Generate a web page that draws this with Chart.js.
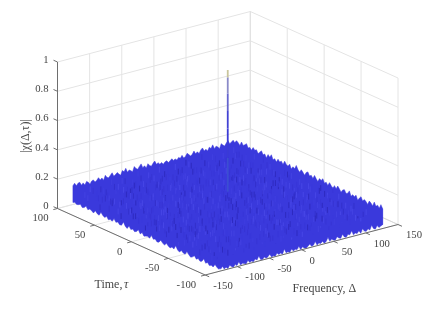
<!DOCTYPE html>
<html lang="en">
<head>
  <meta charset="UTF-8" />
  <title>Ambiguity function</title>
  <script src="https://cdn.jsdelivr.net/npm/chart.js"></script>
  <style>
    body, html { margin: 0; background: #fff; }
    canvas { display: block; filter: blur(0.3px); }
  </style>
</head>
<body>
  <canvas id="chart" width="423" height="313"></canvas>

  <script>
    const zTicks = [0, 0.2, 0.4, 0.6, 0.8, 1];
    const tauTicks = [-100, -50, 0, 50, 100];
    const freqTicks = [-150, -100, -50, 0, 50, 100, 150];

    // surface extent
    const freqEnd = 126;
    const tauEnd = 100;

    // top of the surface along tau = 100 (freq -126 .. 126)
    const backEdge = [0.128,0.142,0.121,0.136,0.139,0.116,0.129,0.112,0.133,0.124,0.107,0.127,0.131,0.113,0.122,0.137,0.118,0.129,0.111,0.141,0.123,0.119,0.133,0.146,0.12,0.128,0.139,0.125,0.114,0.143,0.131,0.152,0.122,0.135,0.127,0.117,0.149,0.132,0.124,0.141,0.155,0.126,0.136,0.118,0.144,0.129,0.121,0.138,0.15,0.125,0.133,0.119,0.128,0.113,0.126,0.131,0.116,0.124,0.135,0.121,0.128,0.117,0.132,0.123,0.14,0.119,0.127,0.145,0.133,0.12,0.129,0.148,0.126,0.137,0.122,0.143,0.154,0.13,0.139,0.124,0.147,0.135,0.157,0.128,0.142,0.133,0.119,0.15,0.137,0.127,0.146,0.158,0.134,0.143,0.152,0.13];
    // top of the surface along freq = 126 (tau 100 .. -100)
    const rightEdge = [0.134,0.151,0.142,0.128,0.157,0.139,0.148,0.161,0.137,0.146,0.132,0.155,0.141,0.15,0.129,0.144,0.158,0.136,0.147,0.125,0.153,0.14,0.162,0.133,0.145,0.127,0.152,0.138,0.149,0.131,0.159,0.142,0.135,0.154,0.126,0.146,0.137,0.165,0.143,0.13,0.151,0.139,0.124,0.148,0.157,0.134,0.144,0.128,0.153,0.136,0.122,0.147,0.14,0.156,0.131,0.143,0.125,0.15,0.135,0.118,0.145,0.129,0.152,0.137,0.121,0.141,0.148,0.127,0.134,0.155,0.123,0.139,0.13,0.146,0.117,0.136,0.151,0.126,0.142,0.133,0.119,0.147,0.138,0.124,0.155,0.131,0.144,0.128,0.158,0.136];
    // lower rim along tau = -100 (freq -126 .. 126)
    const frontEdge = [0.012,0.028,0.007,0.016,0.004,0.022,0.011,0.003,0.019,0.008,0.031,0.005,0.014,0.009,0.002,0.025,0.006,0.013,0.004,0.02,0.01,0.034,0.007,0.003,0.017,0.006,0.012,0.027,0.005,0.009,0.003,0.021,0.008,0.015,0.004,0.036,0.007,0.011,0.003,0.023,0.006,0.014,0.009,0.029,0.004,0.018,0.007,0.002,0.013,0.024,0.006,0.01,0.032,0.005,0.016,0.008,0.021,0.003,0.012,0.038,0.007,0.019,0.01,0.005,0.026,0.014,0.008,0.033,0.011,0.006,0.022,0.016,0.04,0.009,0.018,0.012,0.028,0.007,0.035,0.015,0.01,0.024,0.013,0.042,0.017,0.009,0.03,0.014,0.02,0.026];
    // lower rim along freq = -126 (tau -100 .. 100)
    const leftEdge = [0.02,0.006,0.014,0.027,0.004,0.011,0.002,0.018,0.007,0.031,0.009,0.003,0.016,0.006,0.024,0.01,0.002,0.013,0.029,0.005,0.008,0.019,0.003,0.011,0.035,0.006,0.015,0.002,0.009,0.022,0.004,0.012,0.026,0.007,0.003,0.017,0.01,0.032,0.005,0.013,0.008,0.002,0.021,0.006,0.028,0.011,0.004,0.016,0.007,0.025,0.003,0.012,0.036,0.008,0.005,0.019,0.01,0.03,0.006,0.014,0.004,0.023,0.009,0.017,0.033,0.007,0.012,0.026,0.005,0.015,0.02,0.01,0.029,0.013,0.008,0.024,0.016,0.011,0.021,0.014];

    // heights inside the surface, one list per tau, back to front
    const rowTaus = [85, 70, 55, 40, 25, 10, -5, -20, -35, -50, -65, -80];
    const rowHeights = [
      [0.09,0.13,0.07,0.11,0.05,0.12,0.08,0.14,0.06,0.1,0.13,0.07,0.12,0.04,0.09,0.13,0.08,0.11,0.06,0.14,0.09,0.05,0.12,0.08,0.13,0.07,0.1,0.04,0.12,0.09],
      [0.06,0.11,0.08,0.14,0.05,0.1,0.12,0.06,0.13,0.08,0.04,0.11,0.07,0.14,0.09,0.05,0.12,0.1,0.07,0.13,0.04,0.09,0.12,0.06,0.11,0.14,0.05,0.1,0.08,0.13],
      [0.12,0.05,0.1,0.07,0.13,0.09,0.04,0.11,0.08,0.14,0.06,0.12,0.09,0.05,0.13,0.07,0.11,0.04,0.1,0.08,0.14,0.06,0.12,0.09,0.05,0.11,0.13,0.07,0.1,0.06],
      [0.07,0.13,0.09,0.04,0.12,0.06,0.14,0.08,0.1,0.05,0.13,0.07,0.11,0.09,0.04,0.12,0.14,0.06,0.1,0.05,0.08,0.13,0.07,0.11,0.04,0.09,0.12,0.06,0.14,0.08],
      [0.1,0.06,0.12,0.08,0.05,0.13,0.09,0.04,0.11,0.14,0.07,0.1,0.05,0.12,0.08,0.06,0.14,0.09,0.04,0.11,0.07,0.13,0.05,0.1,0.12,0.08,0.04,0.13,0.07,0.11],
      [0.05,0.12,0.07,0.13,0.1,0.04,0.09,0.14,0.06,0.11,0.08,0.13,0.05,0.1,0.12,0.07,0.04,0.11,0.14,0.06,0.09,0.12,0.08,0.05,0.13,0.1,0.07,0.14,0.04,0.09],
      [0.13,0.08,0.04,0.11,0.06,0.14,0.07,0.1,0.12,0.05,0.09,0.04,0.13,0.08,0.11,0.14,0.06,0.1,0.05,0.12,0.09,0.04,0.13,0.07,0.11,0.06,0.12,0.09,0.05,0.1],
      [0.08,0.11,0.05,0.14,0.09,0.06,0.12,0.04,0.1,0.13,0.07,0.11,0.06,0.14,0.05,0.09,0.12,0.08,0.13,0.04,0.1,0.07,0.14,0.06,0.11,0.05,0.09,0.13,0.08,0.12],
      [0.04,0.1,0.13,0.06,0.11,0.08,0.05,0.12,0.14,0.07,0.09,0.13,0.04,0.1,0.07,0.12,0.05,0.14,0.08,0.11,0.06,0.13,0.09,0.04,0.12,0.07,0.1,0.05,0.11,0.14],
      [0.11,0.07,0.12,0.04,0.09,0.13,0.06,0.1,0.05,0.14,0.08,0.04,0.12,0.09,0.13,0.06,0.11,0.07,0.04,0.1,0.14,0.05,0.08,0.12,0.06,0.13,0.04,0.11,0.09,0.07],
      [0.06,0.09,0.04,0.12,0.07,0.1,0.13,0.05,0.08,0.11,0.04,0.14,0.07,0.05,0.1,0.12,0.06,0.09,0.13,0.05,0.11,0.04,0.1,0.07,0.12,0.05,0.14,0.08,0.06,0.1],
      [0.05,0.03,0.09,0.06,0.02,0.1,0.04,0.07,0.03,0.11,0.05,0.08,0.02,0.06,0.1,0.03,0.07,0.05,0.09,0.02,0.06,0.11,0.04,0.08,0.03,0.1,0.05,0.07,0.04,0.09]
    ];

    // spike at the origin, with its colour going up the line
    const peakZ = [0.17, 0.4, 0.6, 0.72, 0.84, 0.95, 1];
    const peakColors = ['#3c4ed2', '#3a3ad6', '#4343d4', '#6565ce', '#8a8ac8', '#c9c59c'];

    // orthographic view of the box: screen position of freq, tau, z
    function sx(freq, tau) {
      return 57.5 + (100 - tau) / 200 * 147.7 + (freq + 150) / 300 * 192.8;
    }
    function sy(freq, tau, z) {
      return 208.5 + (100 - tau) / 200 * 66.5 - (freq + 150) / 300 * 50.5 - z * 146.5;
    }
    const pt = (freq, tau, z) => ({ x: sx(freq, tau), y: sy(freq, tau, z) });
    const along = (values, i) => -1 + 2 * i / (values.length - 1);

    const lineSet = (data, color, width) => ({
      data, borderColor: color, borderWidth: width, pointRadius: 0, showLine: true, fill: false, tension: 0
    });

    const sets = [];
    const GRID = '#e4e4e4';
    const AXIS = '#6e6e6e';

    // walls and floor
    zTicks.forEach(z => {
      sets.push(lineSet([pt(-150, 100, z), pt(150, 100, z), pt(150, -100, z)], GRID, 1));
    });
    freqTicks.forEach(f => {
      sets.push(lineSet([pt(f, -100, 0), pt(f, 100, 0), pt(f, 100, 1)], f === 150 ? '#d8d8d8' : GRID, 1));
    });
    tauTicks.forEach(t => {
      sets.push(lineSet([pt(-150, t, 0), pt(150, t, 0), pt(150, t, 1)], GRID, 1));
    });

    // outline of the surface
    const outline = [];
    backEdge.forEach((z, i) => outline.push(pt(along(backEdge, i) * freqEnd, tauEnd, z)));
    rightEdge.forEach((z, i) => outline.push(pt(freqEnd, -along(rightEdge, i) * tauEnd, z)));
    frontEdge.slice().reverse().forEach((z, i) => outline.push(pt(-along(frontEdge, i) * freqEnd, -tauEnd, z)));
    leftEdge.forEach((z, i) => outline.push(pt(-freqEnd, along(leftEdge, i) * tauEnd, z)));
    outline.push(outline[0]);
    sets.push({ ...lineSet(outline, '#3a39dc', 0.5), fill: 'shape', backgroundColor: '#3a39dc' });

    // short vertical strands inside it, each row laid down twice with a half step between
    const strandColors = ['#3734d4', '#4342e2', '#3a39dc', '#3330cc', '#3f3ee0', '#3836d8', '#2e2ac0', '#4746e6'];
    [0, 1].forEach(pass => {
      rowHeights.forEach((row, r) => {
        const values = pass ? row.slice().reverse() : row;
        const data = [];
        const colors = [];
        values.forEach((z, i) => {
          const f = along(values, i) * (freqEnd - 6) + pass * 4 + (r % 3) * 1.7;
          const t = rowTaus[r] + pass * 7.5;
          data.push(pt(f, t, Math.max(z - 0.04, 0.015)), pt(f, t, z), { x: null, y: null });
          // shade follows the height, so the flecks do not line up
          colors.push(strandColors[Math.round(z * 100 + i * 3 + r * 5) % strandColors.length]);
        });
        sets.push({
          ...lineSet(data, strandColors[0], 1),
          segment: { borderColor: c => colors[Math.floor(c.p0DataIndex / 3)] }
        });
      });
    });

    // spike
    sets.push({
      ...lineSet(peakZ.map(z => pt(0, 0, z)), '#3a3ad6', 1.8),
      segment: { borderColor: c => peakColors[c.p0DataIndex] }
    });

    // axis lines and tick marks
    sets.push(lineSet([pt(-150, 100, 1), pt(-150, 100, 0), pt(-150, -100, 0), pt(150, -100, 0)], AXIS, 1));
    zTicks.forEach(z => sets.push(lineSet([pt(-150, 100, z), pt(-150, 105.4, z)], AXIS, 1)));
    tauTicks.forEach(t => sets.push(lineSet([pt(-150, t, 0), pt(-156.5, t, 0)], AXIS, 1)));
    freqTicks.forEach(f => sets.push(lineSet([pt(f, -100, 0), pt(f, -105.4, 0)], AXIS, 1)));

    // tick text and axis titles, placed through the chart scales
    const axisText = {
      id: 'axisText',
      afterDatasetsDraw(chart) {
        const { ctx, scales } = chart;
        const put = (text, x, y, align, font) => {
          ctx.font = font;
          ctx.textAlign = align;
          ctx.textBaseline = 'middle';
          ctx.fillText(text, scales.x.getPixelForValue(x), scales.y.getPixelForValue(y));
        };
        const tickFont = '10.7px "Liberation Serif"';
        const titleFont = '12px "Liberation Serif"';
        ctx.save();
        ctx.fillStyle = '#454545';
        zTicks.forEach(z => put(String(z), sx(-150, 100) - 9, sy(-150, 100, z) - 2, 'right', tickFont));
        tauTicks.forEach(t => put(String(t), sx(-150, t) - 9, sy(-150, t, 0) + 10, 'right', tickFont));
        freqTicks.forEach(f => put(String(f), sx(f, -100) + 8, sy(f, -100, 0) + 11, 'left', tickFont));
        put('Frequency, Δ', 324.3, 289, 'center', titleFont);
        put('Time, ', 94.5, 284.7, 'left', titleFont);
        put('τ', 124, 284.7, 'left', 'italic ' + titleFont);
        ctx.translate(scales.x.getPixelForValue(26), scales.y.getPixelForValue(136));
        ctx.rotate(-Math.PI / 2);
        ctx.font = titleFont;
        ctx.textAlign = 'center';
        ctx.textBaseline = 'middle';
        ctx.fillText('|χ(Δ,τ)|', 0, 0);
        ctx.restore();
      }
    };

    new Chart(document.getElementById('chart'), {
      type: 'scatter',
      // Chart.js paints dataset 0 last, so the list goes in front to back
      data: { datasets: sets.slice().reverse() },
      plugins: [axisText],
      options: {
        responsive: false,
        animation: false,
        spanGaps: false,
        layout: { padding: 0 },
        scales: {
          x: { type: 'linear', min: 0, max: 423, display: false },
          y: { type: 'linear', min: 0, max: 313, reverse: true, display: false }
        },
        plugins: { legend: { display: false }, tooltip: { enabled: false } }
      }
    });
  </script>
</body>
</html>
